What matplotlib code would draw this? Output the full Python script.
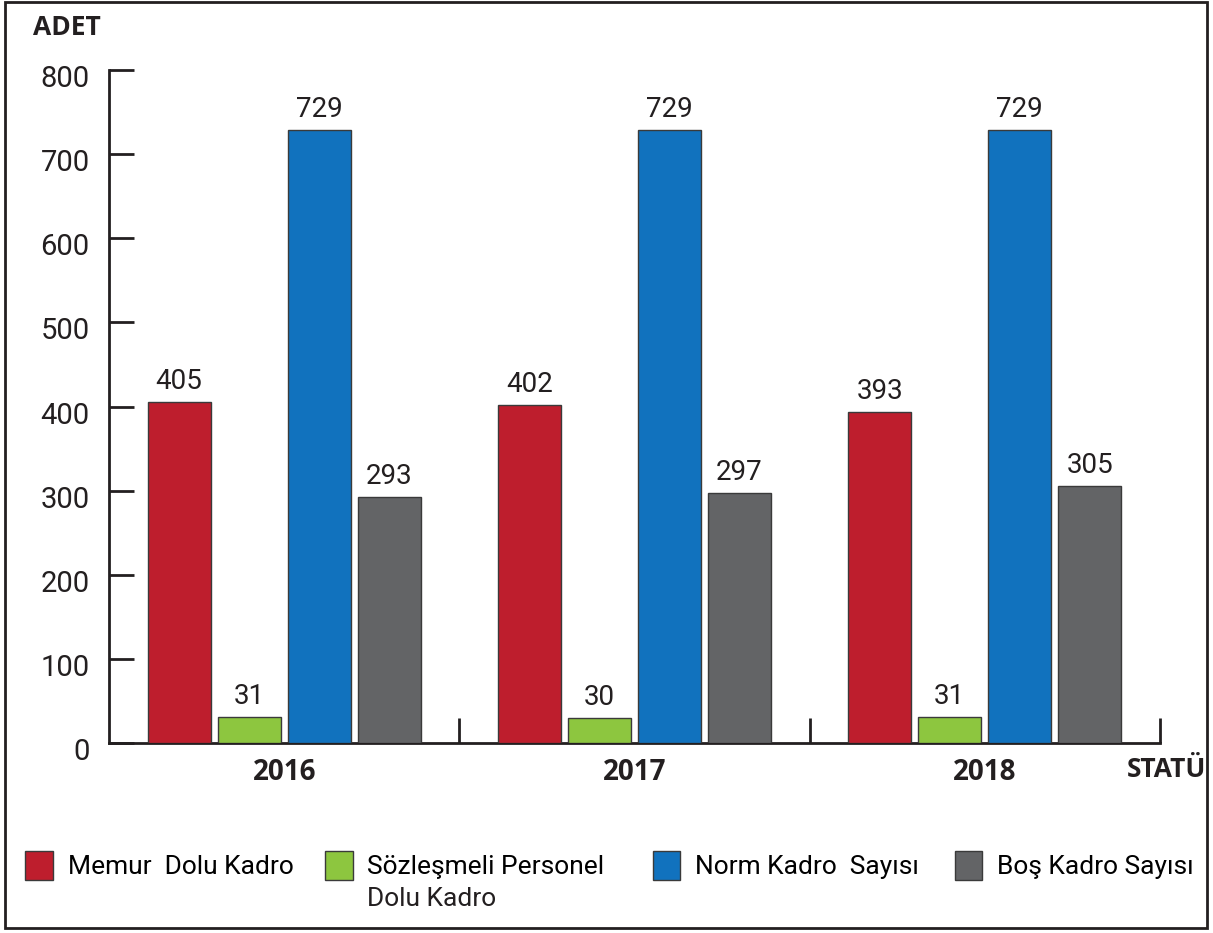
import matplotlib.pyplot as plt
import numpy as np
from matplotlib.patches import Patch, Rectangle
from matplotlib.transforms import ScaledTranslation

plt.rcParams['font.family'] = ['Roboto', 'DejaVu Sans']

years = ['2016', '2017', '2018']
memur = [405, 402, 393]
sozlesmeli = [31, 30, 31]
norm = [729, 729, 729]
bos = [293, 297, 305]
series_names = ['Memur  Dolu Kadro', 'Sözleşmeli Personel',
                'Norm Kadro  Sayısı', 'Boş Kadro Sayısı']
second_line = ['', 'Dolu Kadro', '', '']
colors = ['#BE1E2D', '#8DC63F', '#1172BE', '#636466']

fig = plt.figure(figsize=(12.13, 9.33), dpi=100)
ax = fig.add_axes([0.0899, 0.2036, 0.9563 - 0.0899, 0.925 - 0.2036])

x = np.arange(len(years))
w = 0.18
offsets = [-0.3, -0.1, 0.1, 0.3]
for vals, off, col in zip([memur, sozlesmeli, norm, bos], offsets, colors):
    bars = ax.bar(x + off, vals, w, color=col, edgecolor='#3a3a3a', linewidth=1, zorder=3)
    ax.bar_label(bars, padding=5, fontsize=20, color='#231F20')

ax.set_xlim(-0.5, 2.5)
ax.set_ylim(0, 800)
ax.set_yticks(range(0, 801, 100))
ax.set_xticks(x)
ax.set_xticklabels(years, fontsize=20, fontweight='bold', family=['Open Sans', 'DejaVu Sans'], color='#231F20')
ax.set_xticks([0.5, 1.5, 2.5], minor=True)

for s in ['top', 'right']:
    ax.spines[s].set_visible(False)
for s in ['left', 'bottom']:
    ax.spines[s].set_linewidth(2)
    ax.spines[s].set_color('#231F20')

ax.tick_params(axis='y', direction='in', length=18, width=2, color='#231F20',
               labelsize=21, pad=14, labelcolor='#231F20')
ax.tick_params(axis='x', which='major', length=0, pad=11)
ax.tick_params(axis='x', which='minor', direction='in', length=18, width=2, color='#231F20')

# y labels sit a little below their ticks in the original
shift = ScaledTranslation(0, -6 / 100, fig.dpi_scale_trans)
for lab in ax.get_yticklabels():
    lab.set_transform(lab.get_transform() + shift)

fig.text(0.027, 0.97, 'ADET', fontsize=19, fontweight='bold', family=['Open Sans', 'DejaVu Sans'],
         color='#231F20', va='center', ha='left')
fig.text(0.994, 0.175, 'STATÜ', fontsize=19, fontweight='bold', family=['Open Sans', 'DejaVu Sans'],
         color='#231F20', va='center', ha='right')

# legend entries placed one by one (uneven spacing in the original)
leg_x = [0.021, 0.268, 0.538, 0.787]
legends = []
for c, name, lx in zip(colors, series_names, leg_x):
    h = Patch(facecolor=c, edgecolor='#3a3a3a', linewidth=1)
    lg = fig.legend([h], [name], loc='upper left', bbox_to_anchor=(lx, 0.088),
                    frameon=False, fontsize=19, handlelength=1.05, handleheight=1.3,
                    handletextpad=0.55, borderaxespad=0, borderpad=0)
    legends.append(lg)

fig.canvas.draw()
r = fig.canvas.get_renderer()
for lg, extra in zip(legends, second_line):
    if extra:
        bb = lg.get_texts()[0].get_window_extent(r).transformed(fig.transFigure.inverted())
        fig.text(bb.x0, bb.y0 - 0.034, extra, fontsize=19, color='#231F20', ha='left', va='bottom')

fig.patches.append(Rectangle((0.004, 0.005), 0.991, 0.993, transform=fig.transFigure,
                             fill=False, edgecolor='#231F20', linewidth=2))

fig.savefig('out.png', dpi=100)
